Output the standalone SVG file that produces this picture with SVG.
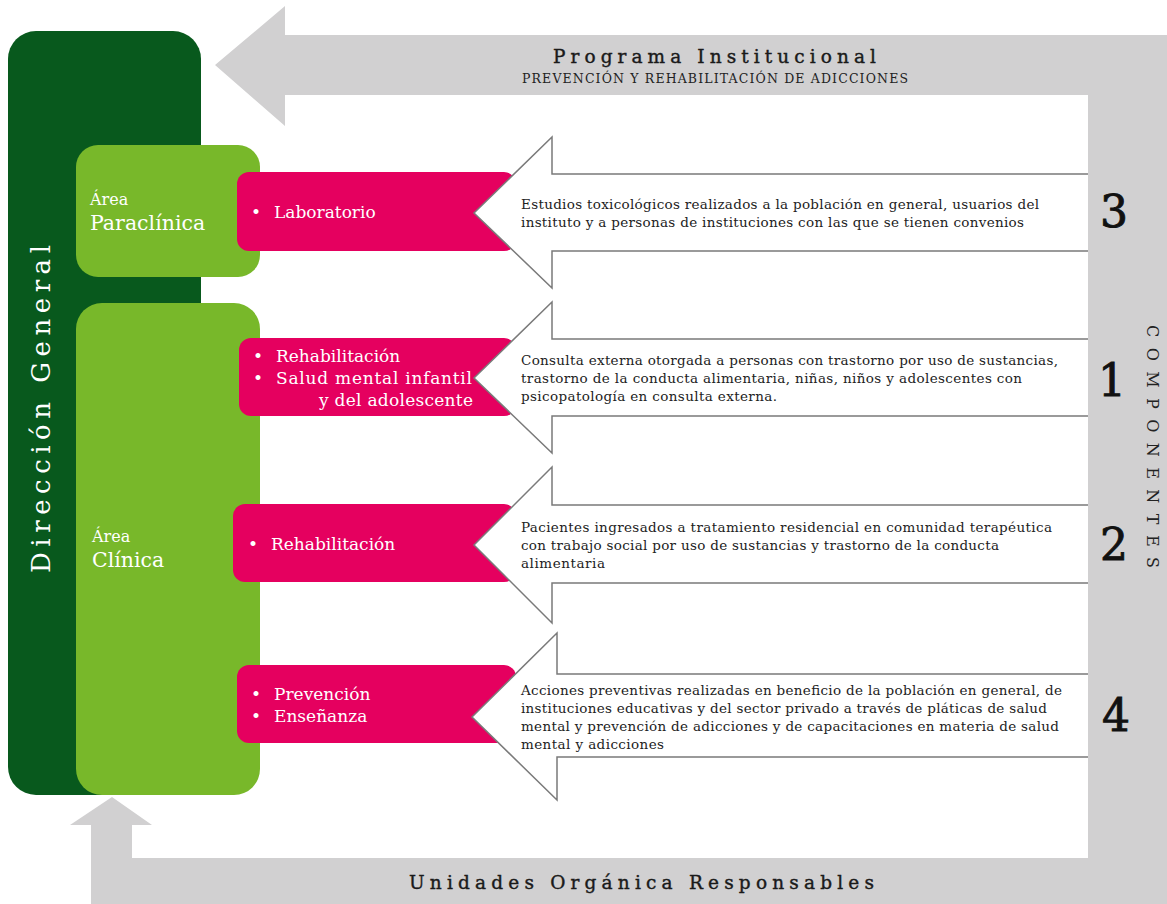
<svg xmlns="http://www.w3.org/2000/svg" width="1167" height="904" viewBox="0 0 1167 904">
<style>
.serif{font-family:"DejaVu Serif","Liberation Serif",serif}
.desc{font-family:"DejaVu Serif","Liberation Serif",serif;font-size:13.5px;fill:#222}
.pk{font-family:"DejaVu Serif","Liberation Serif",serif;font-size:17px;fill:#fff}
.area{font-family:"DejaVu Serif","Liberation Serif",serif;fill:#fff}
.num{font-family:"DejaVu Serif","Liberation Serif",serif;font-size:44px;fill:#111;stroke:#111;stroke-width:0.9;text-anchor:middle}
.title{font-family:"DejaVu Serif","Liberation Serif",serif;fill:#1a1a1a;stroke:#1a1a1a;stroke-width:0.4}
.pink{fill:#e5005f}
.arrow{fill:#fff;stroke:#7a7a7a;stroke-width:1.5}
.lg{fill:#78b82a}
</style>
<rect width="1167" height="904" fill="#fff"/>

<g id="direccion-general">
<rect x="8" y="31" width="193" height="764" rx="28" fill="#08591d"/>
<text class="serif" transform="translate(50,573) rotate(-90)" font-size="26" fill="#fff" textLength="328" lengthAdjust="spacing">Dirección General</text>
</g>

<g id="area-paraclinica">
<rect class="lg" x="76" y="145" width="184" height="132" rx="22"/>
<text class="area" x="90" y="205" font-size="16">Área</text>
<text class="area" x="90" y="230" font-size="20.5">Paraclínica</text>
</g>

<g id="area-clinica">
<rect class="lg" x="76" y="303" width="184" height="492" rx="26"/>
<text class="area" x="92" y="542" font-size="16">Área</text>
<text class="area" x="92" y="567" font-size="20.5">Clínica</text>
</g>

<g id="laboratorio">
<rect class="pink" x="237" y="172" width="279" height="79" rx="12"/>
<text class="pk" x="251" y="218">•</text>
<text class="pk" x="274" y="218">Laboratorio</text>
</g>

<g id="rehab-salud">
<rect class="pink" x="239" y="338" width="277" height="78" rx="12"/>
<text class="pk" x="253" y="362">•</text>
<text class="pk" x="276" y="362">Rehabilitación</text>
<text class="pk" x="253" y="384">•</text>
<text class="pk" x="276" y="384" textLength="196" lengthAdjust="spacing">Salud mental infantil</text>
<text class="pk" x="319" y="406" textLength="154" lengthAdjust="spacing">y del adolescente</text>
</g>

<g id="rehabilitacion">
<rect class="pink" x="233" y="504" width="283" height="78" rx="12"/>
<text class="pk" x="248" y="550">•</text>
<text class="pk" x="271" y="550">Rehabilitación</text>
</g>

<g id="prevencion-ensenanza">
<rect class="pink" x="237" y="665" width="279" height="78" rx="12"/>
<text class="pk" x="251" y="700">•</text>
<text class="pk" x="274" y="700">Prevención</text>
<text class="pk" x="251" y="722">•</text>
<text class="pk" x="274" y="722">Enseñanza</text>
</g>

<g id="connectors">
<path class="arrow" d="M1095,174 L552,174 L552,137 L474,213 L552,288 L552,251 L1095,251"/>
<path class="arrow" d="M1095,339 L552,339 L552,302 L474,378 L552,453 L552,416 L1095,416"/>
<path class="arrow" d="M1095,505 L552,505 L552,467 L474,545 L552,623 L552,583 L1095,583"/>
<path class="arrow" d="M1095,674 L557,674 L557,633 L472,717 L557,800 L557,757 L1095,757"/>
<path id="frame" fill="#d1d0d1" d="M215,65 L285,6 L285,35 L1167,35 L1167,904 L91,904 L91,825 L70,825 L112,797 L152,825 L132,825 L132,858 L1088,858 L1088,95 L285,95 L285,126 Z"/>
</g>

<g id="desc-3">
<text class="desc" x="521" y="209" textLength="518" lengthAdjust="spacing">Estudios toxicológicos  realizados a la población en general, usuarios del</text>
<text class="desc" x="521" y="227" textLength="503" lengthAdjust="spacing">instituto y a personas de instituciones con las que se tienen convenios</text>
</g>
<g id="desc-1">
<text class="desc" x="521" y="365" textLength="537" lengthAdjust="spacing">Consulta externa otorgada a personas con trastorno por uso de sustancias,</text>
<text class="desc" x="521" y="383" textLength="501" lengthAdjust="spacing">trastorno de la conducta alimentaria, niñas, niños y adolescentes con</text>
<text class="desc" x="521" y="401" textLength="256" lengthAdjust="spacing">psicopatología  en consulta externa.</text>
</g>
<g id="desc-2">
<text class="desc" x="521" y="532" textLength="531" lengthAdjust="spacing">Pacientes ingresados a tratamiento residencial en comunidad terapéutica</text>
<text class="desc" x="521" y="550" textLength="478" lengthAdjust="spacing">con trabajo social por uso de sustancias  y trastorno de la conducta</text>
<text class="desc" x="521" y="568" textLength="84" lengthAdjust="spacing">alimentaria</text>
</g>
<g id="desc-4">
<text class="desc" x="521" y="695" textLength="541" lengthAdjust="spacing">Acciones preventivas realizadas en beneficio de la población en general, de</text>
<text class="desc" x="521" y="713" textLength="526" lengthAdjust="spacing">instituciones educativas y del sector privado a través de pláticas de salud</text>
<text class="desc" x="521" y="731" textLength="538" lengthAdjust="spacing">mental y prevención de adicciones y de capacitaciones en materia de salud</text>
<text class="desc" x="521" y="749" textLength="143" lengthAdjust="spacing">mental y adicciones</text>
</g>

<g id="numbers">
<text class="num" x="1114" y="227">3</text>
<text class="num" x="1112" y="396">1</text>
<text class="num" x="1114" y="560">2</text>
<text class="num" x="1116" y="731">4</text>
</g>

<g id="titles">
<text class="title" x="553" y="63" font-size="18.5" textLength="323" lengthAdjust="spacing">Programa Institucional</text>
<text class="serif" x="522" y="83" font-size="12.5" fill="#222" textLength="386" lengthAdjust="spacing">PREVENCIÓN Y REHABILITACIÓN DE ADICCIONES</text>
<text class="title" x="409" y="889" font-size="18.5" textLength="465" lengthAdjust="spacing">Unidades Orgánica Responsables</text>
<text class="serif" transform="translate(1147,325) rotate(90)" font-size="16" fill="#222" textLength="243" lengthAdjust="spacing">COMPONENTES</text>
</g>
</svg>
